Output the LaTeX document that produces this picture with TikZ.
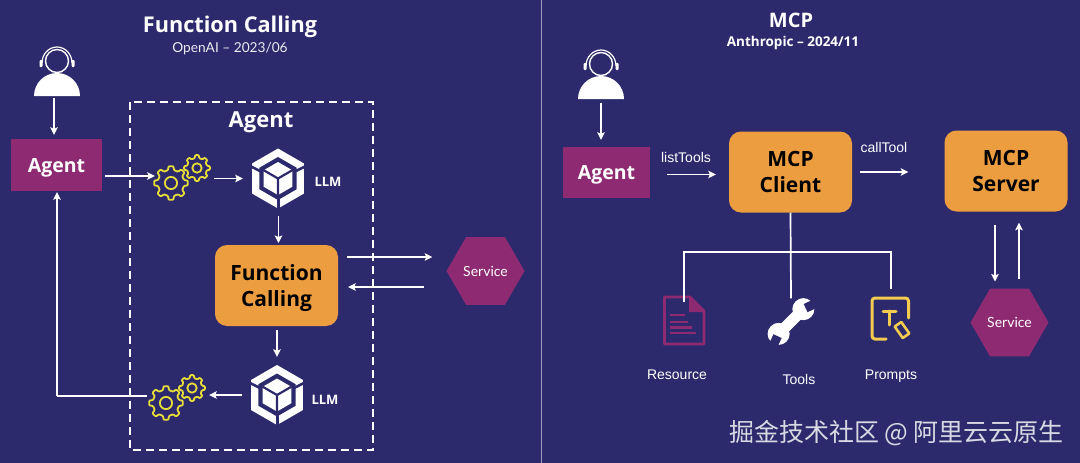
\documentclass[tikz,border=0pt]{standalone}
\usepackage{fontspec}
\setmainfont{Open Sans}
\newfontfamily\lab{Liberation Sans}
\newfontfamily\lat{Lato}
\newfontfamily\cjk{Noto Sans CJK SC}
\usetikzlibrary{arrows.meta,calc,shapes.geometric}
\definecolor{bg}{HTML}{2C2A6C}
\definecolor{plum}{HTML}{8E2A72}
\definecolor{orng}{HTML}{EB9D3F}
\definecolor{gearc}{HTML}{E6DC3A}
\definecolor{promptc}{HTML}{F2CB4F}
\tikzset{
  arr/.style={draw=white,line width=1.8pt,-{Stealth[length=7.5pt,width=7.5pt,inset=1.5pt]}},
  wire/.style={draw=white,line width=1.7pt},
  plumbox/.style={rectangle,fill=plum,text=white,font=\fontsize{19.5}{24}\selectfont\bfseries,inner sep=0pt},
  orangebox/.style={rectangle,rounded corners=12pt,fill=orng,text=black,align=center,inner sep=0pt,font=\fontsize{21}{26}\selectfont\bfseries,minimum width=123pt,minimum height=81pt},
  hexa/.style={regular polygon,regular polygon sides=6,shape border rotate=0,fill=plum,text=white,inner sep=0pt,minimum size=78pt},
  icon/.style={rectangle,inner sep=0pt,draw=none},
  lbl/.style={text=white,inner sep=0pt,font=\lab\fontsize{14}{16}\selectfont},
  llmtxt/.style={text=white,inner sep=0pt,font=\fontsize{13}{15}\selectfont\bfseries},
  pics/person/.style={code={
    \fill[white] (-23,0) arc[start angle=180,end angle=360,radius=23] -- cycle;
    \draw[white,line width=1.4pt,fill=bg] (0,-35) circle[radius=11.5];
    \draw[white,line width=1.2pt] (-15,-33) arc[start angle=180,end angle=360,x radius=15,y radius=16];
    \fill[white,rounded corners=1pt] (-17.5,-36) rectangle (-14.5,-29);
    \fill[white,rounded corners=1pt] (14.5,-36) rectangle (17.5,-29);
  }},
  pics/cog/.style={code={
    \draw[gearc,line width=1.8pt,line join=round,rounded corners=0.8pt]
      (-13:#1*0.78) \foreach \i in {0,...,7}{ -- ({\i*45-13}:#1*0.78) -- ({\i*45-8}:#1) -- ({\i*45+8}:#1) -- ({\i*45+13}:#1*0.78) } -- cycle;
    \draw[gearc,line width=1.8pt] (0,0) circle[radius=#1*0.36];
  }},
  pics/gears/.style={code={
    \pic at (0,0) {cog=17};
    \pic at (26,-15) {cog=13};
  }},
  pics/llm/.style={code={
    \fill[white] (90:30) -- (30:30) -- (-30:30) -- (-90:30) -- (-150:30) -- (150:30) -- cycle;
    \fill[bg] (90:21.5) -- (30:21.5) -- (-30:21.5) -- (-90:21.5) -- (-150:21.5) -- (150:21.5) -- cycle;
    \fill[white] (90:16.5) -- (30:16.5) -- (-30:16.5) -- (-90:16.5) -- (-150:16.5) -- (150:16.5) -- cycle;
    \draw[bg,line width=2.2pt] (0,0) -- (90:17) (0,0) -- (-30:17) (0,0) -- (-150:17);
    \draw[bg,line width=3pt] (0,18) -- (0,32);
    \draw[bg,line width=2.6pt] (-31,-14) -- (-17,-7) (31,-14) -- (17,-7);
  }},
}
\begin{document}
\begin{tikzpicture}[x=1pt,y=-1pt]
\useasboundingbox (0,0) rectangle (1080,463);
\fill[bg] (0,0) rectangle (1080,463);
\draw[draw=white!55!bg,line width=0.8pt] (541.5,0) -- (541.5,463);

% ---------- left panel ----------
\node[text=white,inner sep=0pt,font=\fontsize{21.7}{24}\selectfont\bfseries] (t1) at (230,27) {Function Calling};
\node[text=white!90!bg,inner sep=0pt,font=\lat\fontsize{13.7}{16}\selectfont] (s1) at (230,49) {OpenAI – 2023/06};

\draw[white,line width=1.6pt,dash pattern=on 8pt off 5pt] (130,102) rectangle (373,450);
\node[text=white,inner sep=0pt,font=\fontsize{22}{26}\selectfont\bfseries] (a0) at (261,122) {Agent};

\pic at (57,96) {person};
\node[icon,minimum width=46pt,minimum height=2pt] (user1) at (57,97) {};
\node[plumbox,minimum width=91pt,minimum height=52pt] (agent1) at (56.5,165) {\smash{\raisebox{-7pt}{Agent}}};

\pic at (171,183) {gears};
\node[icon,minimum width=60pt,minimum height=20pt] (g1) at (181,176) {};
\pic at (278,178.5) {llm};
\node[icon,minimum width=52pt,minimum height=60pt] (llm1) at (278,178.5) {};
\node[llmtxt] (lt1) at (328,182) {LLM};

\node[orangebox] (fc) at (276.5,285.5) {\rule{0pt}{21pt}Function\\Calling};
\node[hexa] (svc1) at (485.5,271) {\lat\fontsize{14}{16}\selectfont Service};

\pic at (277,395) {llm};
\node[icon,minimum width=52pt,minimum height=60pt] (llm2) at (277,395) {};
\node[llmtxt] (lt2) at (325,400) {LLM};
\pic at (166,403) {gears};
\node[icon,minimum width=60pt,minimum height=20pt] (g2) at (176,396) {};
\coordinate (corner) at (57,396);
\coordinate (fcup) at (278.5,245);
\coordinate (fcdown) at (277,326);

\draw[arr,shorten >=4pt] ([xshift=-3pt]user1.south) -- ([xshift=-3pt]user1.south |- agent1.north);
\draw[arr,shorten <=3pt,shorten >=-4pt] (agent1.east |- g1) -- (g1.west);
\draw[arr,shorten <=3pt,shorten >=9pt] (g1.east |- llm1) -- (llm1.west);
\draw[arr,shorten <=7pt,shorten >=2pt] (fcup |- llm1.south) -- (fcup);
\draw[arr,shorten <=9pt,shorten >=14pt] ($(fc.east)+(0,-28.5)$) -- ($(svc1.west)+(0,-14)$ |- 0,257);
\draw[arr,shorten <=22pt,shorten >=10pt] (svc1.west |- 0,287) -- (fc.east |- 0,287);
\draw[arr,shorten <=4pt,shorten >=8pt] (fcdown) -- (fcdown |- llm2.north);
\draw[arr,shorten <=9pt,shorten >=3pt] (llm2.west) -- (llm2.west -| g2.east);
\draw[wire,shorten <=-1pt] (g2.west) -- (corner);
\draw[arr] (corner) -- ([yshift=-1pt]corner |- agent1.south);

% ---------- right panel ----------
\node[text=white,inner sep=0pt,font=\fontsize{20}{24}\selectfont\bfseries] (t2) at (791,20) {MCP};
\node[text=white,inner sep=0pt,font=\fontsize{13.5}{16}\selectfont\bfseries] (s2) at (793,43) {Anthropic – 2024/11};

\pic at (601,99) {person};
\node[icon,minimum width=46pt,minimum height=2pt] (user2) at (601,100) {};
\node[plumbox,minimum width=87pt,minimum height=51pt] (agent2) at (606.5,172.5) {\smash{\raisebox{-6.5pt}{Agent}}};
\node[orangebox] (client) at (790.5,172) {MCP\\Client};
\node[orangebox] (server) at (1006,171) {MCP\\Server};
\node[lbl] (lt) at (686,157) {listTools};
\node[lbl] (ct) at (884,147) {callTool};
\node[hexa] (svc2) at (1009.5,322.5) {\lat\fontsize{14}{16}\selectfont Service};

\draw[arr,shorten <=2pt,shorten >=7pt] (user2.south) -- (user2.south |- agent2.north);
\draw[arr,shorten <=17pt,shorten >=13pt] (agent2.east |- 0,174.5) -- (client.west |- 0,174.5);
\draw[arr,shorten <=8pt,shorten >=36pt] (client.east) -- (client.east -| server.west);
\draw[arr,shorten <=13pt,shorten >=7pt] ([xshift=-11pt]server.south) -- ([xshift=-11pt]server.south |- svc2.north);
\draw[arr,shorten <=10pt,shorten >=11pt] ([xshift=13pt]server.south |- svc2.north) -- ([xshift=13pt]server.south);

% resource icon
\node[icon,minimum width=42pt,minimum height=50pt] (res) at (684,320.5) {};
\draw[plum,line width=2.6pt,line join=round] (664.5,297) -- (690,297) -- (704,311) -- (704,344) -- (664.5,344) -- cycle;
\fill[plum] (689,296) -- (705,312) -- (689,312) -- cycle;
\foreach \yy/\xe in {315/685,322/688,327.5/692,333/696}{\draw[plum,line width=2.2pt] (670,\yy) -- (\xe,\yy);}
\node[lbl] (rl) at (677,375) {Resource};

% tools icon
\node[icon,minimum width=46pt,minimum height=46pt] (tool) at (791,321.5) {};
\begin{scope}[shift={(791,321.5)},rotate=45]
  \fill[white] (-16,-5.5) rectangle (16,5.5);
  \fill[white] (-17.5,0) circle[radius=11];
  \fill[white] (17.5,0) circle[radius=11];
  \fill[bg,rotate around={20:(-17.5,0)}] (-32,-4.5) rectangle (-20,4.5);
  \fill[bg,rotate around={-20:(17.5,0)}] (20,-4.5) rectangle (32,4.5);
\end{scope}
\node[lbl] (tl) at (799,379) {Tools};

% prompts icon
\node[icon,minimum width=42pt,minimum height=44pt] (pr) at (891,319) {};
\draw[promptc,line width=3pt,line cap=round,rounded corners=3pt] (886,339) -- (872,339) -- (872,298) -- (908.5,298) -- (908.5,318);
\draw[promptc,line width=3pt,line cap=round] (883,311) -- (896,311) (889.5,311) -- (889.5,325);
\draw[promptc,line width=2.6pt,line join=round,rotate around={35:(902,330)}] (898,323) -- (906,323) -- (906,337) -- (898,337) -- cycle;
\node[lbl] (pl) at (891,376) {Prompts};

% tree
\coordinate (bus) at (790.5,252);
\draw[wire] (client.south) -- (tool.north);
\draw[wire,line join=miter] ([yshift=-7pt]res.north) -- (res.north |- bus) -- (pr.north |- bus) -- ([yshift=8pt]pr.north);

% watermark
\node[text=white!82!bg,inner sep=0pt,font=\fontsize{25}{28}\selectfont] (wm) at (896.5,433) {\cjk 掘金技术社区 @ 阿里云云原生};
\end{tikzpicture}
\end{document}
